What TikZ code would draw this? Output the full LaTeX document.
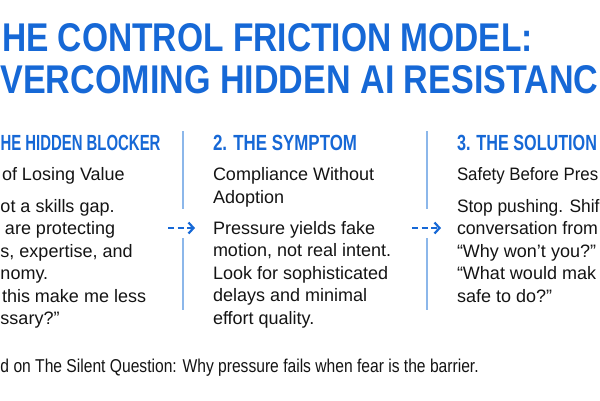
\documentclass[tikz,border=0pt]{standalone}
\usepackage{fontspec}
\setmainfont{Liberation Sans}
\usepackage{graphicx}
\usetikzlibrary{arrows.meta}
\definecolor{titleblue}{RGB}{22,104,214}
\definecolor{divblue}{RGB}{140,183,234}
\definecolor{ink}{RGB}{20,20,20}
\tikzset{
  txt/.style={anchor=base west, inner sep=0pt, outer sep=0pt, text=ink, font=\fontsize{18}{18}\selectfont},
  hd/.style={anchor=base west, inner sep=0pt, outer sep=0pt, text=titleblue, font=\bfseries},
  divider/.style={draw=divblue, line width=1.3pt},
  flow/.style={draw=titleblue, line width=2.4pt, dash pattern=on 6pt off 3.5pt,
    -{Straight Barb[length=5pt,width=11pt,line width=2.2pt]}}
}
\begin{document}
\begin{tikzpicture}[x=1pt,y=-1pt]
\useasboundingbox (0,0) rectangle (600,400);
\fill[white] (0,0) rectangle (600,400);
\clip (0,0) rectangle (600,400);
% title
\node[hd] (t1) at (2,51) {\resizebox{531pt}{28pt}{HE CONTROL FRICTION MODEL:}};
\node[hd] (t2) at (0.5,93) {\resizebox{598pt}{28pt}{VERCOMING HIDDEN AI RESISTANC}};
% column 1
\node[hd] (h1) at (0.5,150) {\resizebox{160pt}{15.3pt}{HE HIDDEN BLOCKER}};
\node[txt] (s1) at (2,180) {of Losing Value};
\node[txt] (b1a) at (0.5,212) {ot a skills gap.};
\node[txt] (b1b) at (5,234.5) {are protecting};
\node[txt] (b1c) at (0.5,257) {s, expertise, and};
\node[txt] (b1d) at (0.5,279.5) {nomy.};
\node[txt] (b1e) at (2,302) {this make me less};
\node[txt] (b1f) at (0.5,324.5) {ssary?”};
% column 2
\node[hd] (h2) at (213,150) {\resizebox{144pt}{15.3pt}{2. THE SYMPTOM}};
\node[txt] (s2a) at (213,180) {Compliance Without};
\node[txt] (s2b) at (213,203) {Adoption};
\node[txt] (b2a) at (213,234) {Pressure yields fake};
\node[txt] (b2b) at (213,256.5) {motion, not real intent.};
\node[txt] (b2c) at (213,279) {Look for sophisticated};
\node[txt] (b2d) at (213,301.5) {delays and minimal};
\node[txt] (b2e) at (213,324) {effort quality.};
% column 3
\node[hd] (h3) at (457,150) {\resizebox{140pt}{15.3pt}{3. THE SOLUTION}};
\node[txt] (s3) at (457,180) {\scalebox{0.935}[1]{Safety Before Pres}};
\node[txt] (b3a) at (457,212) {\scalebox{0.965}[1]{Stop pushing. Shif}};
\node[txt] (b3b) at (457,234.5) {\scalebox{0.985}[1]{conversation from}};
\node[txt] (b3c) at (457,257) {“Why won’t you?”};
\node[txt] (b3d) at (457,279.5) {“What would mak};
\node[txt] (b3e) at (457,302) {safe to do?”};
% dividers
\coordinate (d1a) at (183,131); \coordinate (d1b) at (183,209);
\coordinate (d1c) at (183,238); \coordinate (d1d) at (183,310);
\coordinate (d2a) at (427,131); \coordinate (d2b) at (427,209);
\coordinate (d2c) at (427,238); \coordinate (d2d) at (427,310);
\draw[divider] (d1a) -- (d1b);
\draw[divider] (d1c) -- (d1d);
\draw[divider] (d2a) -- (d2b);
\draw[divider] (d2c) -- (d2d);
% arrows
\coordinate (a1s) at (168,228); \coordinate (a1e) at (195,228);
\coordinate (a2s) at (412,228); \coordinate (a2e) at (441,228);
\draw[flow] (a1s) -- (a1e);
\draw[flow] (a2s) -- (a2e);
% footer
\node[txt] (foot) at (0.5,372) {\scalebox{0.84}[1]{\fontsize{18.6}{18.6}\selectfont d on The Silent Question: Why pressure fails when fear is the barrier.}};
\end{tikzpicture}
\end{document}
